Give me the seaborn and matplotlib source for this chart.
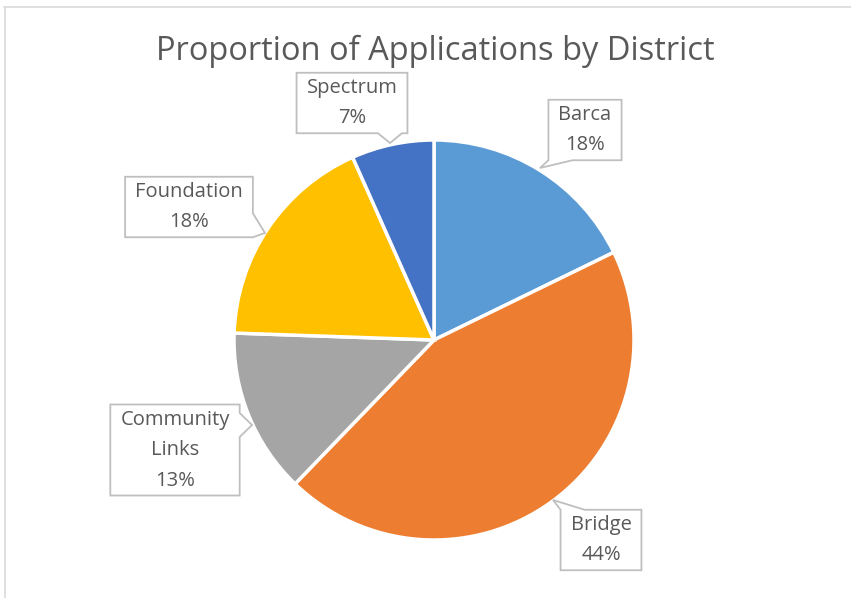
import matplotlib
matplotlib.use("Agg")
import matplotlib.pyplot as plt
from matplotlib.patches import Polygon
import seaborn as sns

districts = ["Barca", "Bridge", "Community\nLinks", "Foundation", "Spectrum"]
applications = [8, 20, 6, 8, 3]
colors = ["#5B9BD5", "#ED7D31", "#A5A5A5", "#FFC000", "#4472C4"]

sns.set_theme(style="white")
plt.rcParams["font.family"] = ["Open Sans", "DejaVu Sans"]

W, H = 851, 598
CX, CY, R = 434, 340, 200

def px(x, y):
    return ((x - CX) / R, (CY - y) / R)

fig = plt.figure(figsize=(W / 100, H / 100), dpi=100)
ax = fig.add_axes([0, 0, 1, 1])
palette = sns.color_palette(colors)
wedges, _ = ax.pie(applications, colors=palette, startangle=90, counterclock=False,
                   wedgeprops=dict(edgecolor="white", linewidth=2.5), radius=1, center=(0, 0))
ax.set_xlim(px(0, 0)[0], px(W, 0)[0])
ax.set_ylim(px(0, H)[1], px(0, 0)[1])
ax.set_aspect("equal")
ax.axis("off")

# frame lines
ax.plot([px(4, 0)[0], px(W, 0)[0]], [px(0, 6.5)[1]] * 2, color="#D9D9D9", lw=1.2, clip_on=False)
ax.plot([px(4.5, 0)[0]] * 2, [px(0, 6.5)[1], px(0, H)[1]], color="#D9D9D9", lw=1.2, clip_on=False)

ax.text(*px(435, 51), "Proportion of Applications by District", ha="center", va="center",
        fontsize=23.5, color="#595959")

total = sum(applications)
label_pos = [(585, 130), (601, 540), (175, 450), (189, 207), (352, 103)]
tip_pos = [(540, 168), (553, 500), (252, 425), (265, 233), (390, 143)]
texts = []
for name, val, lp in zip(districts, applications, label_pos):
    pct = round(100 * val / total)
    t = ax.text(*px(*lp), f"{name}\n{pct}%", ha="center", va="center",
                fontsize=14.5, color="#595959", linespacing=1.7, zorder=5)
    texts.append(t)

fig.canvas.draw()
renderer = fig.canvas.get_renderer()
PADX, PADY, HW = 10, 5, 12
for t, tp in zip(texts, tip_pos):
    bb = t.get_window_extent(renderer)
    # pixel coords with y downward
    x0, x1 = bb.x0 - PADX, bb.x1 + PADX
    y0, y1 = (H - bb.y1) - PADY, (H - bb.y0) + PADY
    cx, cy = (x0 + x1) / 2, (y0 + y1) / 2
    tx, ty = tp
    dx, dy = tx - cx, ty - cy
    sx = (x1 - x0) / 2 / abs(dx) if dx else 1e9
    sy = (y1 - y0) / 2 / abs(dy) if dy else 1e9
    # corners clockwise (y down): TL, TR, BR, BL
    if sx < sy:
        b = min(max(ty, y0 + HW), y1 - HW)
        if dx > 0:  # right edge
            pts = [(x0, y0), (x1, y0), (x1, b - HW), (tx, ty), (x1, b + HW), (x1, y1), (x0, y1)]
        else:
            pts = [(x0, y0), (x1, y0), (x1, y1), (x0, y1), (x0, b + HW), (tx, ty), (x0, b - HW)]
    else:
        b = min(max(tx, x0 + HW), x1 - HW)
        if dy > 0:  # bottom edge
            pts = [(x0, y0), (x1, y0), (x1, y1), (b + HW, y1), (tx, ty), (b - HW, y1), (x0, y1)]
        else:
            pts = [(x0, y0), (b - HW, y0), (tx, ty), (b + HW, y0), (x1, y0), (x1, y1), (x0, y1)]
    poly = Polygon([px(*p) for p in pts], closed=True, fc="white", ec="#BFBFBF", lw=1.3,
                   zorder=4, joinstyle="miter")
    ax.add_patch(poly)

fig.savefig("out.png", dpi=100, facecolor="white")
